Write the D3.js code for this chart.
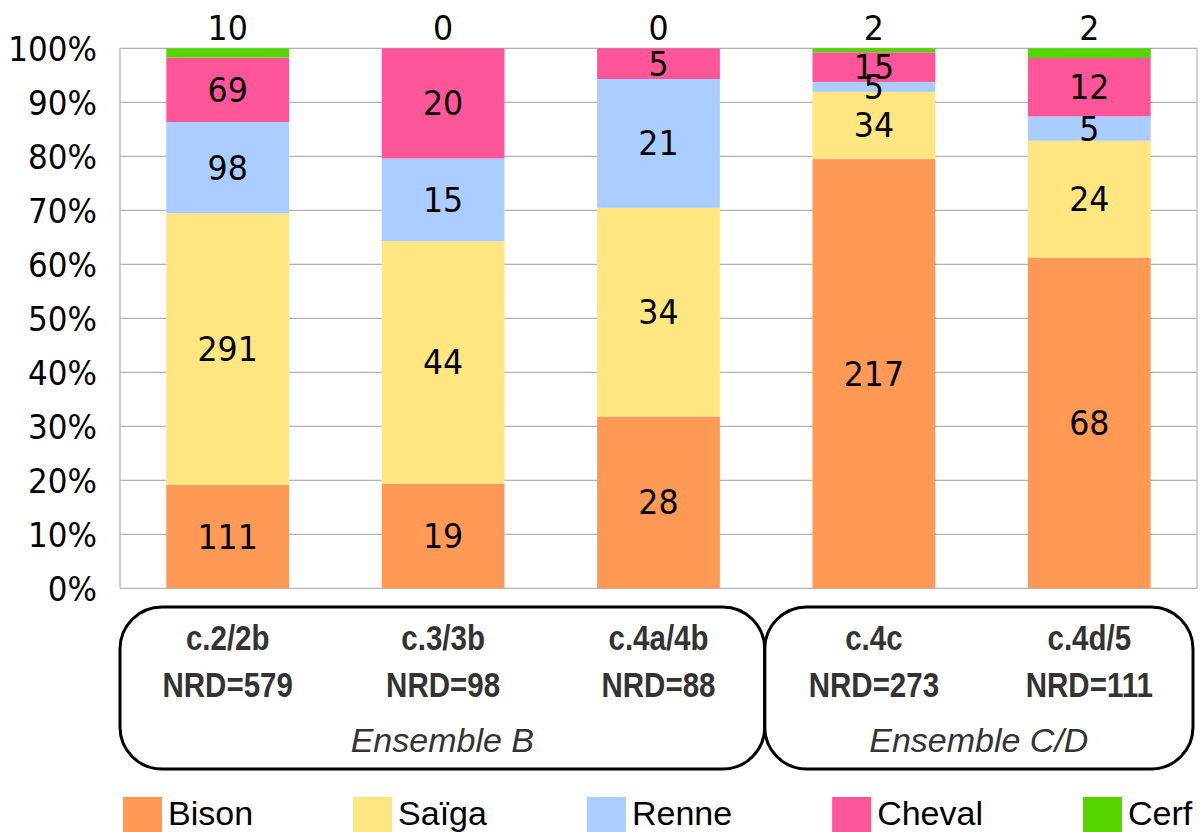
<!DOCTYPE html>
<html><head><meta charset="utf-8">
<script src="https://cdn.jsdelivr.net/npm/d3@7"></script>
<style>body{margin:0;background:#fff}svg{display:block}</style>
</head><body>
<svg id="c" width="1200" height="832"></svg>
<script>
const categories = ["c.2/2b","c.3/3b","c.4a/4b","c.4c","c.4d/5"];
const nrd = [579, 98, 88, 273, 111];
const species = ["Bison","Saïga","Renne","Cheval","Cerf"];
const bison  = [111, 19, 28, 217, 68];
const saiga  = [291, 44, 34, 34, 24];
const renne  = [98, 15, 21, 5, 5];
const cheval = [69, 20, 5, 15, 12];
const cerf   = [10, 0, 0, 2, 2];
const groups = ["Ensemble B","Ensemble C/D"];
const groupOf = [0,0,0,1,1];
const yTicks = [0,0.1,0.2,0.3,0.4,0.5,0.6,0.7,0.8,0.9,1];
const colors = ["#ff9955","#ffe680","#aaccff","#ff5599","#55d400"];

const series = [bison, saiga, renne, cheval, cerf];
const rows = categories.map((c,i)=>{
  const r = {cat:c};
  species.forEach((s,k)=>r[s]=series[k][i]);
  r.total = d3.sum(series, a=>a[i]);
  return r;
});
const norm = rows.map(r=>{const o={cat:r.cat}; species.forEach(s=>o[s]=r[s]/r.total); return o;});
const stack = d3.stack().keys(species)(norm);

const svg = d3.select("#c");
const L=120, R=1197, T=48.3, B=588.3;
const x = d3.scaleBand().domain(categories).range([L,R]).paddingInner(0.43).paddingOuter(0.215);
const y = d3.scaleLinear().domain([0,1]).range([B,T]);
const color = d3.scaleOrdinal().domain(species).range(colors);

// gridlines
svg.append("g").selectAll("line").data(yTicks).join("line")
  .attr("x1",L).attr("x2",R).attr("y1",d=>y(d)).attr("y2",d=>y(d))
  .attr("stroke","#b3b3b3").attr("stroke-width",1.2);
svg.append("line").attr("x1",L).attr("x2",L).attr("y1",T).attr("y2",B).attr("stroke","#b3b3b3").attr("stroke-width",1.2);
svg.append("line").attr("x1",R).attr("x2",R).attr("y1",T).attr("y2",B).attr("stroke","#b3b3b3").attr("stroke-width",1.2);

// y axis
const ya = svg.append("g").attr("transform",`translate(${L},0)`)
  .call(d3.axisLeft(y).tickValues(yTicks).tickFormat(d3.format(".0%")).tickSize(0).tickPadding(0));
ya.select(".domain").remove();
ya.selectAll("text").attr("font-family","DejaVu Sans").attr("font-size",33).attr("fill","#000")
  .attr("x",0).attr("dy","0.36em").attr("transform","translate(-23,0) scale(0.94,1)");

// bars
const bw = x.bandwidth();
svg.append("g").selectAll("g").data(stack).join("g").attr("fill",d=>color(d.key))
  .selectAll("rect").data(d=>d).join("rect")
  .attr("x",d=>x(d.data.cat)).attr("width",bw)
  .attr("y",d=>y(d[1])).attr("height",d=>y(d[0])-y(d[1]));

// labels
const lab = svg.append("g").attr("font-family","DejaVu Sans").attr("font-size",33).attr("text-anchor","middle").attr("fill","#000");
stack.forEach((s,k)=>{
  s.forEach((d,i)=>{
    const v = series[k][i];
    const cx = x(d.data.cat)+bw/2;
    let ty;
    if (species[k]==="Cerf") ty = y(1) - 8;
    else ty = y((d[0]+d[1])/2) + 12;
    lab.append("text").attr("transform",`translate(${cx},${ty}) scale(0.96,1)`).text(v);
  });
});

// group boxes
const step = x.step(), pin = x.paddingInner()*step/2;
groups.forEach((g,gi)=>{
  const idx = categories.map((c,i)=>i).filter(i=>groupOf[i]===gi);
  const x0 = x(categories[idx[0]]) - pin + (gi===0?0:-1.5);
  const x1 = x(categories[idx[idx.length-1]]) + bw + pin - (gi===groups.length-1?4:1.5);
  svg.append("rect").attr("x",x0).attr("y",607).attr("width",x1-x0).attr("height",162)
    .attr("rx",42).attr("ry",42).attr("fill","none").attr("stroke","#000").attr("stroke-width",3);
  svg.append("text").attr("x",(x0+x1)/2).attr("y",752).attr("text-anchor","middle")
    .attr("font-family","Liberation Sans").attr("font-style","italic").attr("font-size",34)
    .attr("fill","#333").text(g);
});
const cl = svg.append("g").attr("font-family","'Liberation Sans Narrow', 'Liberation Sans'").attr("font-weight","bold")
  .attr("font-size",36).attr("text-anchor","middle").attr("fill","#333");
categories.forEach((c,i)=>{
  const cx = x(c)+bw/2;
  cl.append("text").attr("transform",`translate(${cx},650) scale(0.82,1)`).text(c);
  cl.append("text").attr("transform",`translate(${cx},697) scale(0.82,1)`).text("NRD="+nrd[i]);
});

// legend
let lx = 123;
const lg = svg.append("g");
species.forEach((s,k)=>{
  lg.append("rect").attr("x",lx).attr("y",797).attr("width",39).attr("height",40).attr("fill",color(s));
  const t = lg.append("text").attr("x",lx+45).attr("y",825).attr("font-family","Liberation Sans")
    .attr("font-size",34).attr("fill","#000").text(s);
  lx = lx + 45 + t.node().getComputedTextLength() + 100;
});
</script>
</body></html>
